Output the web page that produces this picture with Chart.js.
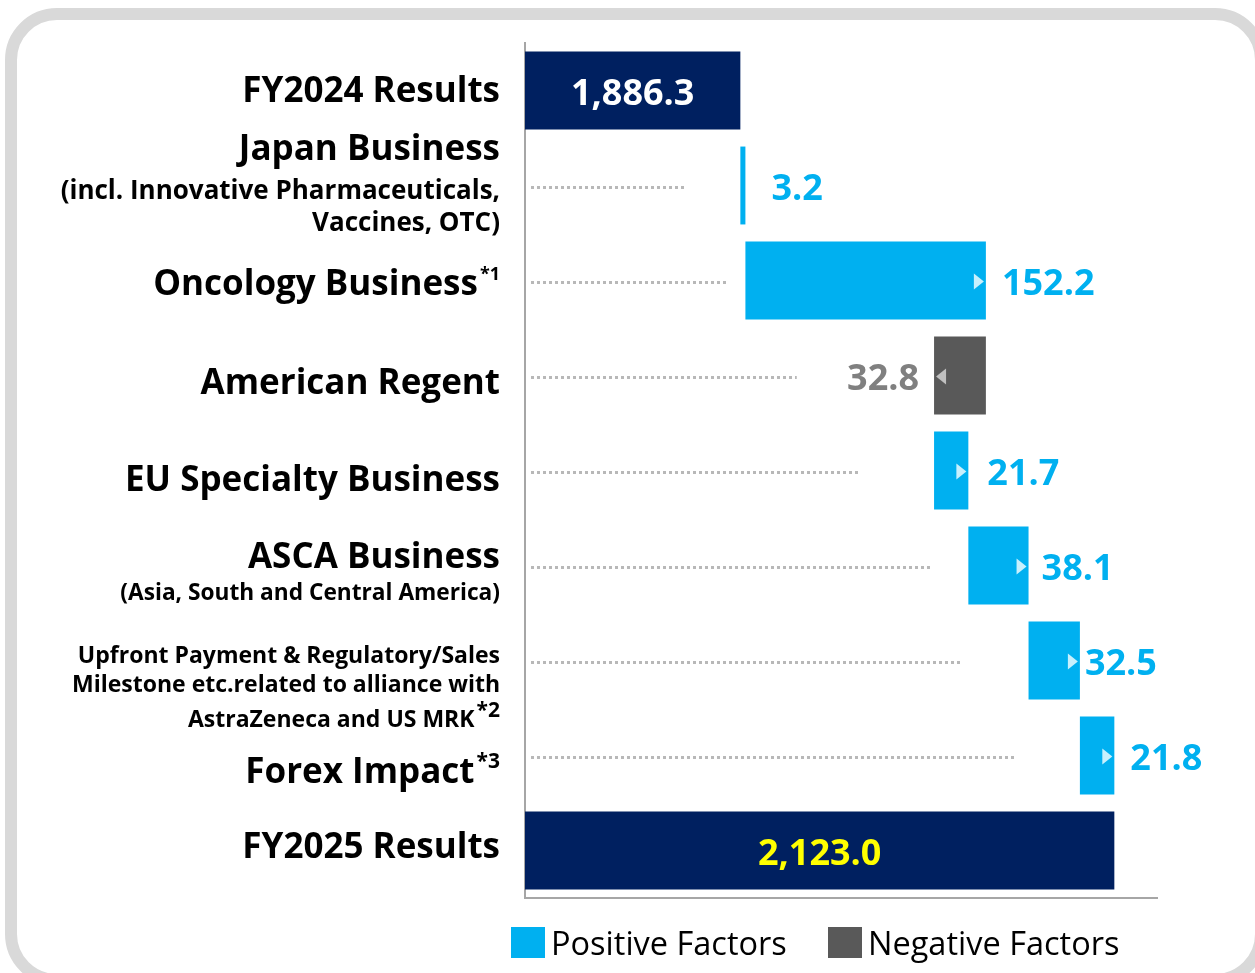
<!DOCTYPE html>
<html>
<head>
<meta charset="utf-8">
<script src="https://cdn.jsdelivr.net/npm/chart.js@4.4.1/dist/chart.umd.min.js"></script>
<style>
  body { margin: 0; background: #fff; }
  #chart { display: block; }
</style>
</head>
<body>
<canvas id="chart" width="1255" height="973"></canvas>
<script>
// categories, top to bottom
const categories = ['FY2024 Results', 'Japan Business', 'Oncology Business', 'American Regent',
    'EU Specialty Business', 'ASCA Business', 'Upfront Payment', 'Forex Impact', 'FY2025 Results'];
const labelLines = [
    ['FY2024 Results'],
    ['Japan Business', '(incl. Innovative Pharmaceuticals,', 'Vaccines, OTC)'],
    ['Oncology Business'],
    ['American Regent'],
    ['EU Specialty Business'],
    ['ASCA Business', '(Asia, South and Central America)'],
    ['Upfront Payment & Regulatory/Sales', 'Milestone etc.related to alliance with', 'AstraZeneca and US MRK'],
    ['Forex Impact'],
    ['FY2025 Results']
];
const footnotes = ['', '', '*1', '', '', '', '*2', '*3', ''];
const startTotal = 1886.3;
const endTotal = 2123.0;
const changes = [3.2, 152.2, -32.8, 21.7, 38.1, 32.5, 21.8];
const valueLabels = ['1,886.3', '3.2', '152.2', '32.8', '21.7', '38.1', '32.5', '21.8', '2,123.0'];
// where the dotted guide line stops (axis units)
const guideEnds = [null, 1852, 1878, 1922, 1962, 2008, 2027, 2060, null];
const axisMin = 1750;
const axisMax = 2150;
const legendLabels = ['Positive Factors', 'Negative Factors'];

const NAVY = '#002060', CYAN = '#00b0f0', GRAY = '#595959';
const FONT = '"Open Sans", "Noto Sans", sans-serif';

// build floating bars for the waterfall
let ranges = [[axisMin, startTotal]];
let run = startTotal;
changes.forEach(c => {
    ranges.push(c >= 0 ? [run, run + c] : [run + c, run]);
    run += c;
});
ranges.push([axisMin, endTotal]);
const colors = ranges.map((r, i) => {
    if (i == 0 || i == ranges.length - 1) return NAVY;
    return changes[i - 1] >= 0 ? CYAN : GRAY;
});

// label layout: size and vertical offset of cap-centre from category centre
const labelStyle = [
    [{size: 35, dy: -1}],
    [{size: 35, dy: -38}, {size: 26, dy: 4}, {size: 26, dy: 36}],
    [{size: 35, dy: 2, sup: 18}],
    [{size: 35, dy: 6}],
    [{size: 35, dy: 8}],
    [{size: 35, dy: -10}, {size: 22.7, dy: 26}],
    [{size: 23, dy: -6}, {size: 23, dy: 23}, {size: 23, dy: 58, sup: 21}],
    [{size: 35, dy: 15, sup: 21}],
    [{size: 35, dy: -5}]
];
// gap between bar end and its value label, px
const valueGap = [0, 26, 16, 15, 19, 13, 5, 16, 0];

const framePlugin = {
    id: 'frame',
    beforeDraw(chart) {
        const ctx = chart.ctx;
        ctx.save();
        ctx.fillStyle = '#fff';
        ctx.fillRect(0, 0, chart.width, chart.height);
        ctx.strokeStyle = '#d9d9d9';
        ctx.lineWidth = 12;
        ctx.beginPath();
        ctx.roundRect(11, 14, 1250, 966, 46);
        ctx.stroke();
        ctx.restore();
    }
};

const decorPlugin = {
    id: 'decor',
    beforeDatasetsDraw(chart) {
        const ctx = chart.ctx;
        const x = chart.scales.x, y = chart.scales.y;
        ctx.save();
        ctx.strokeStyle = '#b8b8b8';
        ctx.lineWidth = 3;
        ctx.setLineDash([3, 3]);
        guideEnds.forEach((g, i) => {
            if (g == null) return;
            const py = y.getPixelForValue(i) + 2;
            ctx.beginPath();
            ctx.moveTo(chart.chartArea.left + 6, py);
            ctx.lineTo(x.getPixelForValue(g), py);
            ctx.stroke();
        });
        ctx.restore();
    },
    afterDraw(chart) {
        const ctx = chart.ctx;
        const y = chart.scales.y;
        ctx.save();
        // category labels
        ctx.fillStyle = '#000';
        ctx.textAlign = 'right';
        ctx.textBaseline = 'alphabetic';
        const right = 500;
        labelLines.forEach((lines, i) => {
            const cy = y.getPixelForValue(i);
            lines.forEach((t, j) => {
                const st = labelStyle[i][j];
                const base = cy + st.dy + 0.357 * st.size;
                let xr = right;
                if (st.sup && footnotes[i]) {
                    ctx.font = 'bold ' + st.sup + 'px ' + FONT;
                    ctx.fillText(footnotes[i], right, base - st.size * 0.42);
                    xr = right - ctx.measureText(footnotes[i]).width - 2;
                }
                ctx.font = 'bold ' + st.size + 'px ' + FONT;
                ctx.fillText(t, xr, base);
            });
        });
        // bar arrows and value labels
        const meta = chart.getDatasetMeta(0);
        meta.data.forEach((bar, i) => {
            const cy = bar.y;
            const left = Math.min(bar.x, bar.base), rightEdge = Math.max(bar.x, bar.base);
            const last = i == meta.data.length - 1;
            if (i > 0 && !last && rightEdge - left > 20) {
                const pos = changes[i - 1] >= 0;
                ctx.fillStyle = pos ? '#c8f0fd' : '#c0c0c0';
                ctx.beginPath();
                if (pos) {
                    ctx.moveTo(rightEdge - 2, cy + 1);
                    ctx.lineTo(rightEdge - 12, cy - 7);
                    ctx.lineTo(rightEdge - 12, cy + 9);
                } else {
                    ctx.moveTo(left + 2, cy + 1);
                    ctx.lineTo(left + 12, cy - 7);
                    ctx.lineTo(left + 12, cy + 9);
                }
                ctx.closePath();
                ctx.fill();
            }
            ctx.font = 'bold 36px ' + FONT;
            const base = cy + 2 + 0.357 * 36;
            if (i == 0 || last) {
                ctx.fillStyle = i == 0 ? '#fff' : '#ffff00';
                ctx.textAlign = 'center';
                ctx.fillText(valueLabels[i], (left + rightEdge) / 2, base);
            } else if (changes[i - 1] >= 0) {
                ctx.fillStyle = CYAN;
                ctx.textAlign = 'left';
                ctx.fillText(valueLabels[i], rightEdge + valueGap[i], base);
            } else {
                ctx.fillStyle = '#808080';
                ctx.textAlign = 'right';
                ctx.fillText(valueLabels[i], left - valueGap[i], base);
            }
        });
        // legend
        const legendColors = [CYAN, GRAY];
        const legendX = [511, 828];
        ctx.font = '32.5px ' + FONT;
        ctx.textAlign = 'left';
        legendLabels.forEach((t, k) => {
            ctx.fillStyle = legendColors[k];
            ctx.fillRect(legendX[k], 927, 34, 31);
            ctx.fillStyle = '#000';
            ctx.fillText(t, legendX[k] + 40, 955);
        });
        ctx.restore();
    }
};

new Chart(document.getElementById('chart'), {
    type: 'bar',
    data: {
        labels: categories,
        datasets: [{
            data: ranges,
            backgroundColor: colors,
            borderWidth: 0,
            borderSkipped: false,
            barPercentage: 0.82,
            categoryPercentage: 1.0
        }]
    },
    options: {
        indexAxis: 'y',
        responsive: false,
        animation: false,
        layout: { padding: { left: 525, right: 98, top: 43, bottom: 75 } },
        plugins: { legend: { display: false }, tooltip: { enabled: false } },
        scales: {
            x: {
                min: axisMin, max: axisMax,
                ticks: { display: false },
                grid: { display: false },
                border: { color: '#a6a6a6', width: 2 },
                afterFit: s => { s.height = 0; }
            },
            y: {
                ticks: { display: false },
                grid: { display: false },
                border: { color: '#a6a6a6', width: 2 },
                afterFit: s => { s.width = 0; }
            }
        }
    },
    plugins: [framePlugin, decorPlugin]
});
</script>
</body>
</html>
